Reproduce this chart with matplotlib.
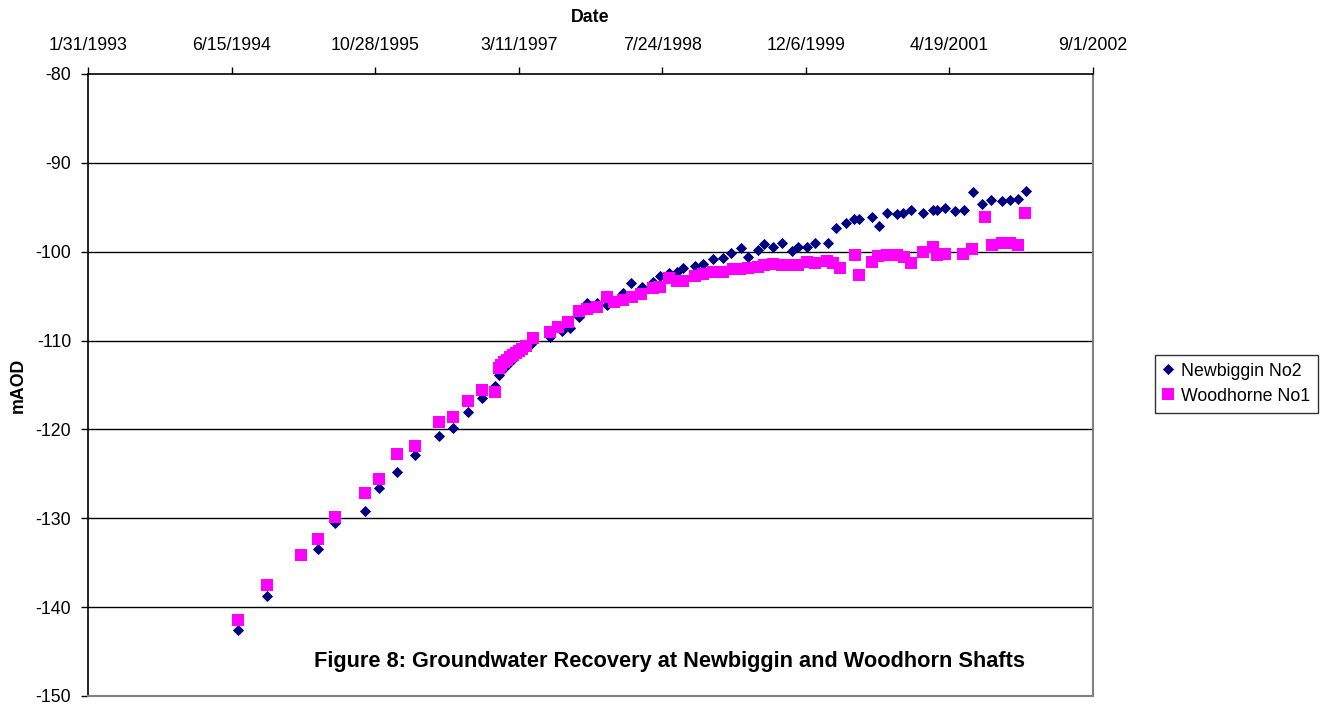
import matplotlib
matplotlib.use("Agg")
import matplotlib.pyplot as plt
import matplotlib.dates as mdates
from matplotlib.ticker import FuncFormatter, FixedLocator
import datetime as dt

plt.rcParams['font.family'] = ['Liberation Sans', 'DejaVu Sans']

# ---------------- data ----------------
newbiggin_dates = [
    "1994-07-07", "1994-10-15", "1995-04-11", "1995-06-11", "1995-09-23", "1995-11-11",
    "1996-01-11", "1996-03-14", "1996-06-06", "1996-07-24", "1996-09-16", "1996-11-04",
    "1996-12-19", "1997-01-01",
    "1997-01-08", "1997-01-19", "1997-01-29", "1997-02-08", "1997-02-19", "1997-03-01",
    "1997-03-12", "1997-03-22", "1997-04-05", "1997-04-23",
    "1997-06-28", "1997-08-08", "1997-09-05", "1997-10-08", "1997-11-05", "1997-12-08",
    "1998-01-12", "1998-03-09", "1998-04-06", "1998-05-14", "1998-06-21", "1998-07-16",
    "1998-08-16", "1998-09-13", "1998-10-04", "1998-11-15", "1998-12-12",
    "1999-01-16", "1999-02-20", "1999-03-20", "1999-04-24", "1999-05-18", "1999-06-22",
    "1999-07-13", "1999-08-13", "1999-09-14", "1999-10-18", "1999-11-08", "1999-12-10",
    "2000-01-06", "2000-02-21", "2000-03-20", "2000-04-23", "2000-05-21", "2000-06-08",
    "2000-07-23", "2000-08-16", "2000-09-13", "2000-10-18", "2000-11-08", "2000-12-06",
    "2001-01-16", "2001-02-20", "2001-03-06", "2001-04-03", "2001-05-08", "2001-06-08",
    "2001-07-10", "2001-08-10", "2001-09-10", "2001-10-19", "2001-11-15", "2001-12-13",
    "2002-01-10",
]
newbiggin_values = [
    -142.6, -138.7, -133.5, -130.5, -129.2, -126.6, -124.8, -122.9, -120.7, -119.8, -118.0,
    -116.5, -115.1, -113.9,
    -113.4, -113.1, -112.7, -112.4, -112.1, -111.7, -111.4, -111.1, -110.7, -110.4,
    -109.6, -108.9, -108.6, -107.3, -105.8, -105.8, -106.0, -104.7, -103.5, -104.0, -103.4,
    -102.7, -102.4, -102.3, -101.8, -101.6, -101.4,
    -100.8, -100.7, -100.1, -99.6, -100.6, -99.8, -99.1, -99.5, -99.0, -99.9, -99.5, -99.5,
    -99.0, -99.0, -97.3, -96.8, -96.3, -96.3, -96.1, -97.1, -95.6, -95.8, -95.6, -95.3,
    -95.6, -95.3, -95.3, -95.1, -95.4, -95.3, -93.3, -94.6, -94.2, -94.3, -94.2, -94.1,
    -93.2,
]

woodhorn_dates = [
    "1994-07-07", "1994-10-15", "1995-02-11", "1995-04-11", "1995-06-11", "1995-09-23",
    "1995-11-11", "1996-01-11", "1996-03-14", "1996-06-06", "1996-07-24", "1996-09-16",
    "1996-11-04", "1996-12-19",
    "1997-01-01", "1997-01-08", "1997-01-19", "1997-01-29", "1997-02-08", "1997-02-19",
    "1997-03-01", "1997-03-12", "1997-03-22", "1997-04-05", "1997-04-30",
    "1997-06-28", "1997-07-26", "1997-08-29", "1997-10-08", "1997-11-05", "1997-12-08",
    "1998-01-12", "1998-02-07", "1998-03-09", "1998-04-09", "1998-05-11", "1998-06-21",
    "1998-07-16", "1998-08-16", "1998-09-13", "1998-10-04", "1998-11-15", "1998-12-12",
    "1999-01-16", "1999-02-20", "1999-03-27", "1999-04-22", "1999-05-18", "1999-06-22",
    "1999-07-13", "1999-08-13", "1999-09-14", "1999-10-11", "1999-11-08", "1999-12-10",
    "2000-01-06", "2000-02-17", "2000-03-09", "2000-04-02", "2000-05-25", "2000-06-08",
    "2000-07-23", "2000-08-13", "2000-09-13", "2000-10-18", "2000-11-11", "2000-12-06",
    "2001-01-16", "2001-02-20", "2001-03-06", "2001-04-03", "2001-06-05", "2001-07-06",
    "2001-08-20", "2001-09-14", "2001-10-19", "2001-11-15", "2001-12-13", "2002-01-07",
]
woodhorn_values = [
    -141.4, -137.5, -134.1, -132.3, -129.8, -127.1, -125.6, -122.8, -121.9, -119.2, -118.6,
    -116.8, -115.6, -115.8,
    -113.1, -112.7, -112.4, -112.2, -111.8, -111.6, -111.4, -111.2, -110.9, -110.6, -109.7,
    -109.0, -108.5, -107.9, -106.7, -106.4, -106.2, -105.1, -105.7, -105.4, -105.1, -104.8,
    -104.1, -104.0, -103.0, -103.3, -103.3, -102.7, -102.5,
    -102.3, -102.3, -102.0, -102.0, -101.8, -101.7, -101.5, -101.4, -101.5, -101.5, -101.5,
    -101.2,
    -101.3, -101.0, -101.3, -101.8, -100.4, -102.6, -101.2, -100.5, -100.4, -100.4, -100.6,
    -101.3,
    -100.0, -99.5, -100.4, -100.3, -100.3, -99.7, -96.1, -99.2, -99.0, -99.0, -99.2, -95.6,
]

x_tick_labels = ["1/31/1993", "6/15/1994", "10/28/1995", "3/11/1997",
                 "7/24/1998", "12/6/1999", "4/19/2001", "9/1/2002"]
y_ticks = [-150, -140, -130, -120, -110, -100, -90, -80]

series_names = ["Newbiggin No2", "Woodhorne No1"]
x_title = "Date"
y_title = "mAOD"
caption = "Figure 8: Groundwater Recovery at Newbiggin and Woodhorn Shafts"


def parse(s):
    return dt.datetime.strptime(s, "%Y-%m-%d")


def parse_mdy(s):
    return dt.datetime.strptime(s, "%m/%d/%Y")


nb_x = [parse(d) for d in newbiggin_dates]
wh_x = [parse(d) for d in woodhorn_dates]
tick_dates = [parse_mdy(s) for s in x_tick_labels]

# ---------------- figure ----------------
W, H = 1324, 704
fig = plt.figure(figsize=(W / 100, H / 100), dpi=100)
L, R, T, B = 88, 1093, 74, 696
ax = fig.add_axes([L / W, 1 - B / H, (R - L) / W, (B - T) / H])

FS = 12.8

ax.plot(nb_x, newbiggin_values, linestyle="none", marker="D", markersize=5.6,
        color="#000080", markeredgewidth=0.6, markeredgecolor="#000080",
        label=series_names[0], zorder=3)
ax.plot(wh_x, woodhorn_values, linestyle="none", marker="s", markersize=8,
        color="#FF00FF", markeredgewidth=0, label=series_names[1], zorder=4)

ax.set_xlim(tick_dates[0], tick_dates[-1])
ax.set_ylim(-150, -80)

ax.xaxis.tick_top()
ax.xaxis.set_label_position("top")
ax.xaxis.set_major_locator(FixedLocator([mdates.date2num(d) for d in tick_dates]))
ax.xaxis.set_major_formatter(FuncFormatter(
    lambda v, p: "{}/{}/{}".format(mdates.num2date(v).month, mdates.num2date(v).day,
                                   mdates.num2date(v).year)))
ax.set_yticks(y_ticks)
ax.set_yticklabels([str(v) for v in y_ticks])

ax.tick_params(axis="x", direction="out", length=5, width=1, pad=9.5,
               labelsize=FS, colors="black")
ax.tick_params(axis="y", direction="out", length=5, width=1, pad=7,
               labelsize=FS, colors="black")

for v in y_ticks[1:-1]:
    ax.axhline(v, color="black", linewidth=1, zorder=1)

ax.spines["top"].set_color("black")
ax.spines["left"].set_color("black")
ax.spines["top"].set_linewidth(1.2)
ax.spines["left"].set_linewidth(1.2)
ax.spines["right"].set_color("#808080")
ax.spines["bottom"].set_color("#808080")
ax.spines["right"].set_linewidth(1.5)
ax.spines["bottom"].set_linewidth(1.5)

fig.text((L + R) / 2 / W, 1 - 17 / H, x_title, ha="center", va="center",
         fontsize=FS, fontweight="bold")
fig.text(18 / W, 1 - (T + B) / 2 / H, y_title, ha="center", va="center",
         rotation=90, fontsize=FS, fontweight="bold")
fig.text(670 / W, 1 - 667 / H, caption, ha="center", va="baseline",
         fontsize=15.7, fontweight="bold")

leg = fig.legend(loc="center left", bbox_to_anchor=(1155 / W, 1 - 383.5 / H),
                 fontsize=FS, frameon=True, fancybox=False, shadow=False,
                 handlelength=0.6, handletextpad=0.4, borderpad=0.45,
                 labelspacing=0.45, borderaxespad=0)
leg.get_frame().set_edgecolor("black")
leg.get_frame().set_linewidth(1)

fig.savefig("out.png", dpi=100)
